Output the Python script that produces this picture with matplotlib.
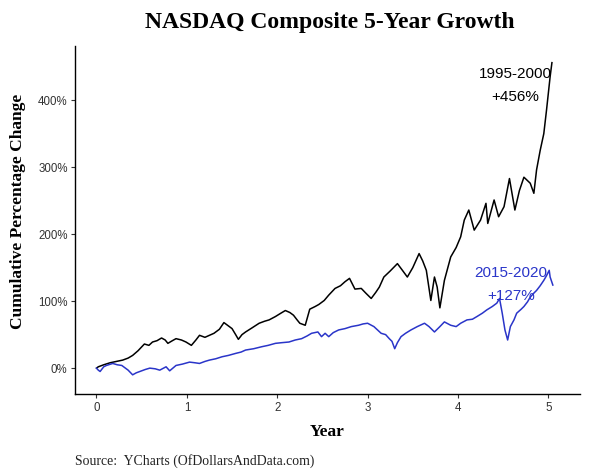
import matplotlib
matplotlib.use("Agg")
import matplotlib.pyplot as plt

# ---- data ----
black_year = [0.00,0.02,0.08,0.15,0.22,0.29,0.35,0.40,0.46,0.53,0.58,0.62,0.67,0.72,0.76,0.79,0.84,0.88,0.94,0.99,
              1.05,1.10,1.14,1.20,1.25,1.30,1.36,1.41,1.46,1.50,1.54,1.57,1.61,1.65,1.72,1.80,1.86,1.91,1.98,
              2.04,2.09,2.14,2.18,2.22,2.25,2.31,2.36,2.42,2.46,2.52,2.57,2.64,2.70,2.75,2.80,2.86,2.93,2.98,
              3.04,3.09,3.13,3.18,3.25,3.33,3.38,3.44,3.50,3.57,3.61,3.65,3.70,3.74,3.77,3.80,3.85,3.92,3.98,
              4.03,4.07,4.12,4.18,4.25,4.31,4.33,4.40,4.45,4.51,4.57,4.63,4.68,4.73,4.80,4.84,4.87,4.91,4.95,
              4.98,5.02,5.04]
black_pct = [0,2,5,8,10,12,15,19,26,36,34,39,41,45,42,37,41,44,42,39,
             34,42,49,46,49,52,58,68,63,59,50,43,50,54,60,67,70,72,77,
             82,86,83,79,72,67,64,88,92,95,101,109,119,123,129,134,118,119,112,
             104,113,121,136,145,156,147,136,150,171,160,146,101,136,121,90,131,166,180,
             196,221,236,206,221,246,216,251,226,241,283,236,265,285,276,261,296,325,350,
             385,435,456]

blue_year = [0.00,0.02,0.04,0.08,0.11,0.18,0.23,0.28,0.32,0.35,0.40,0.44,0.48,0.54,0.59,0.65,0.70,0.77,0.81,0.88,0.95,
             1.03,1.09,1.14,1.20,1.25,1.32,1.39,1.46,1.54,1.60,1.65,1.74,1.83,1.90,1.98,
             2.05,2.13,2.20,2.27,2.33,2.38,2.45,2.49,2.53,2.57,2.62,2.68,2.75,2.82,2.90,2.95,
             3.00,3.07,3.15,3.20,3.24,3.27,3.30,3.33,3.37,3.42,3.48,3.55,3.63,3.68,3.74,3.80,3.85,3.92,3.98,
             4.03,4.10,4.16,4.21,4.27,4.32,4.38,4.43,4.46,4.49,4.52,4.55,4.58,4.62,4.65,4.70,4.73,4.77,4.80,
             4.84,4.87,4.91,4.95,4.98,5.01,5.02,5.05]
blue_pct = [0,-3,-5,2,4,7,5,4,0,-3,-10,-7,-5,-2,0,-1,-3,2,-4,4,6,
            9,8,7,10,12,14,17,19,22,24,27,29,32,34,37,
            38,39,42,44,48,52,54,47,52,47,53,57,59,62,64,66,
            67,62,52,50,44,40,29,38,47,52,57,62,67,62,54,62,69,64,62,
            67,72,73,77,82,87,92,97,104,82,57,42,62,72,82,88,92,99,106,
            112,116,123,131,138,146,136,124]

x_ticks = [0, 1, 2, 3, 4, 5]
y_ticks = [0, 100, 200, 300, 400]
y_tick_labels = ["0%", "100%", "200%", "300%", "400%"]

title = "NASDAQ Composite 5-Year Growth"
black_label = "1995-2000\n+456%"
blue_label = "2015-2020\n+127%"
blue = "#2a35c9"

fig = plt.figure(figsize=(6.06, 4.76), dpi=100)
ax = fig.add_axes([0.123, 0.172, 0.834, 0.731])

ax.plot(black_year, black_pct, color="black", lw=1.1)
ax.plot(blue_year, blue_pct, color=blue, lw=1.1)

ax.set_xlim(-0.243, 5.35)
ax.set_ylim(-38.8, 480.6)
ax.set_xticks(x_ticks)
ax.set_xticklabels([str(t) for t in x_ticks])
ax.set_yticks(y_ticks)
ax.set_yticklabels(y_tick_labels)

for s in ["top", "right"]:
    ax.spines[s].set_visible(False)
for s in ["left", "bottom"]:
    ax.spines[s].set_linewidth(1.0)
    ax.spines[s].set_color("black")
ax.tick_params(axis="both", length=3, width=0.8, color="#333333",
               labelsize=8.3, labelcolor="#333333")
ax.tick_params(axis="y", pad=2)
ax.tick_params(axis="x", pad=3)
for lab in ax.get_xticklabels() + ax.get_yticklabels():
    lab.set_family("Liberation Sans")

ax.text(4.636, 422, black_label, ha="center", va="center", multialignment="center",
        fontsize=11, family="Liberation Sans", color="black", linespacing=1.75)
ax.text(4.587, 125, blue_label, ha="center", va="center", multialignment="center",
        fontsize=11, family="Liberation Sans", color=blue, linespacing=1.75)

fig.text(0.545, 0.953, title, ha="center", va="center", fontsize=17,
         family="Liberation Serif", weight="bold")
ax.set_ylabel("Cumulative Percentage Change", family="Liberation Serif",
              weight="bold", fontsize=12.5)
ax.yaxis.set_label_coords(-0.097, 0.526)
ax.set_xlabel("Year", family="Liberation Serif", weight="bold", fontsize=12.5, labelpad=7)
fig.text(0.124, 0.031, "Source:  YCharts (OfDollarsAndData.com)", ha="left", va="center",
         fontsize=9.9, family="Liberation Serif", color="#222222")

fig.savefig("out.png", dpi=100)
